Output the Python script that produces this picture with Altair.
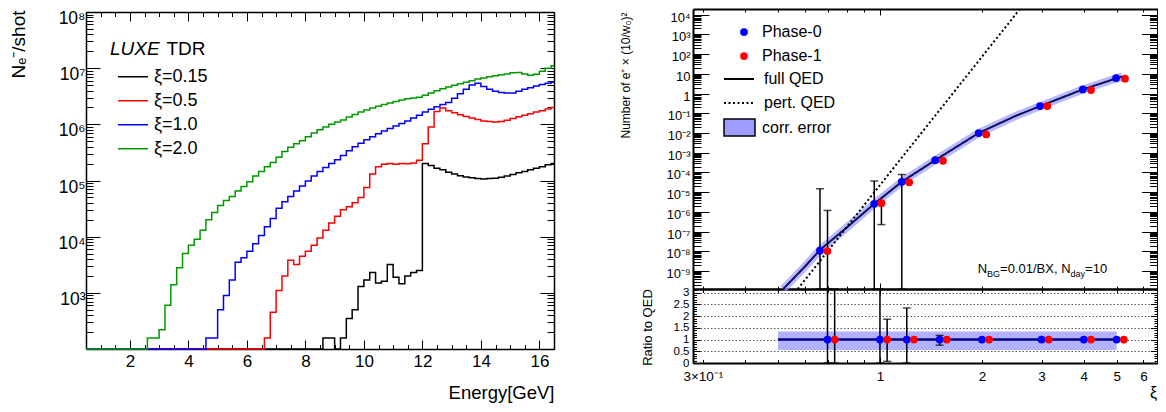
import altair as alt
import pandas as pd

W, H = 1150, 396
FONT = "Liberation Sans"

# ------------------------------------------------------------------ left panel data
energy_edges = [round(0.4 + 0.2 * i, 1) for i in range(82)]   # 0.2 GeV bins (left edges + closing edge)
series_names = ["ξ=0.15", "ξ=0.5", "ξ=1.0", "ξ=2.0"]
series_colors = ["#000000", "#ff0000", "#0000ff", "#009a00"]

counts_xi015 = [0] * 41 + [
    157, 157, 0, 157, 350, 500, 1300, 1700, 2300, 1500,
    1600, 3200, 1900, 1450, 2000, 2300, 2500, 200000, 185000, 165000,
    155000, 140000, 130000, 122000, 116000, 112000, 108000, 106000, 108000, 110000,
    114000, 120000, 128000, 138000, 145000, 155000, 165000, 175000, 190000, 200000]
counts_xi05 = [0] * 31 + [
    157, 450, 1100, 2000, 3800, 3200, 4500, 5500, 7000, 9500,
    13000, 17500, 23000, 30000, 34000, 40000, 50000, 75000, 130000, 175000,
    195000, 200000, 195000, 200000, 198000, 205000, 230000, 450000, 900000, 1.7e6,
    1.95e6, 1.75e6, 1.6e6, 1.48e6, 1.38e6, 1.3e6, 1.22e6, 1.15e6, 1.12e6, 1.1e6,
    1.12e6, 1.18e6, 1.27e6, 1.37e6, 1.45e6, 1.55e6, 1.65e6, 1.75e6, 1.88e6, 2.0e6]
counts_xi10 = [0] * 21 + [
    157, 157, 500, 900, 1700, 3500, 4200, 5500, 7500, 10500,
    15000, 21000, 32000, 42000, 52000, 65000, 80000, 98000, 120000, 145000,
    170000, 200000, 235000, 280000, 340000, 400000, 460000, 530000, 600000, 680000,
    760000, 840000, 930000, 1.03e6, 1.15e6, 1.3e6, 1.45e6, 1.65e6, 1.85e6, 2.05e6,
    2.25e6, 2.45e6, 2.9e6, 3.5e6, 4.2e6, 5.0e6, 5.4e6, 4.7e6, 4.2e6, 3.9e6,
    3.7e6, 3.6e6, 3.6e6, 3.9e6, 4.2e6, 4.5e6, 4.8e6, 5.1e6, 5.4e6, 5.6e6]
counts_xi20 = [0] * 11 + [
    157, 157, 220, 600, 1400, 2800, 5000, 7000, 9000, 13000,
    20000, 27000, 36000, 44000, 52000, 65000, 78000, 95000, 120000, 145000,
    175000, 210000, 260000, 330000, 390000, 450000, 510000, 600000, 700000, 800000,
    900000, 1.0e6, 1.1e6, 1.2e6, 1.35e6, 1.5e6, 1.65e6, 1.8e6, 1.95e6, 2.1e6,
    2.25e6, 2.4e6, 2.55e6, 2.7e6, 2.85e6, 2.95e6, 3.05e6, 3.3e6, 3.6e6, 3.95e6,
    4.3e6, 4.6e6, 4.95e6, 5.3e6, 5.6e6, 6.0e6, 6.4e6, 6.7e6, 7.0e6, 7.3e6,
    7.6e6, 7.9e6, 8.3e6, 8.4e6, 7.9e6, 7.5e6, 7.8e6, 8.8e6, 1.0e7, 1.1e7]

left_x_labels = [2, 4, 6, 8, 10, 12, 14, 16]
left_x_minor = [0.5 * k for k in range(1, 34)]
left_y_labels = [1e3, 1e4, 1e5, 1e6, 1e7, 1e8]
left_y_major = [1e2] + left_y_labels
left_y_minor = [m * 10.0 ** d for d in range(2, 8) for m in range(2, 10)]

# ------------------------------------------------------------------ right panel data
xi_p0_top = [0.665, 0.962, 1.16, 1.456, 1.957, 2.97, 3.97, 4.98]
n_p0 = [1.1e-8, 2.6e-6, 3.4e-5, 4.2e-4, 1.0e-2, 0.23, 1.6, 6.1]
xi_p1_top = [0.70, 1.01, 1.22, 1.535, 2.06, 3.12, 4.2, 5.29]
n_p1 = [1.05e-8, 2.8e-6, 3.2e-5, 3.9e-4, 8.4e-3, 0.23, 1.5, 5.6]
qed_xi = [0.518, 0.6, 0.665, 0.8, 0.962, 1.16, 1.456, 1.957, 2.5, 2.97, 3.97, 5.2]
qed_n = [1.26e-10, 1.7e-9, 1.2e-8, 1.7e-7, 2.6e-6, 3.4e-5, 4.2e-4, 1.0e-2, 7.0e-2, 0.23, 1.6, 7.4]
pert_xi = [0.572, 1.0, 2.59]
pert_n = [1.26e-10, 2.3e-5, 1.9e4]
err_top_xi = [0.665, 0.70, 0.962, 1.01, 1.16]
err_top_lo = [0, 0, 0, 2.3e-7, 0]
err_top_hi = [1.5e-5, 1.2e-6, 3.7e-5, 2.8e-6, 7.9e-5]

xi_p0_ratio = [0.70, 1.0, 1.2, 1.5, 2.0, 3.0, 4.0, 5.0]
xi_p1_ratio = [0.735, 1.05, 1.26, 1.575, 2.1, 3.15, 4.2, 5.25]
ratio_p0 = [1.0] * 8
ratio_p1 = [1.0] * 8
err_ratio_xi = [0.70, 0.735, 1.0, 1.05, 1.2, 1.5]
err_ratio_lo = [0, 0, 0, 0.07, 0, 0.76]
err_ratio_hi = [5, 5, 5, 1.87, 2.35, 1.18]
band_xi = [0.5, 5.0]
band_ratio = [0.55, 1.35]

rx_labels = [0.3, 1, 2, 3, 4, 5, 6]
rx_minor = [0.3, 0.4, 0.5, 0.6, 0.7, 0.8, 0.9, 2, 3, 4, 5, 6]
ru_y_labels = [10.0 ** d for d in range(-9, 5)]
ru_y_minor = [m * 10.0 ** d for d in range(-10, 5) for m in range(2, 10)
              if 10 ** -9.9 <= m * 10.0 ** d <= 10 ** 4.28]
ratio_labels = [0, 0.5, 1, 1.5, 2, 2.5, 3]
ratio_minor = [round(0.1 * k, 1) for k in range(0, 32)]

# ------------------------------------------------------------------ scales (pixel ranges inside one view)
LX = alt.Scale(type="linear", domain=[0.5, 16.5], range=[78, 546], clamp=True, nice=False, zero=False)
LY = alt.Scale(type="log", domain=[1e2, 1e8], range=[341, 4], clamp=True, nice=False)
RX = alt.Scale(type="log", domain=[0.2805, 6.6], range=[685, 1149.5], clamp=True, nice=False)
RUY = alt.Scale(type="log", domain=[10 ** -9.9, 10 ** 4.28], range=[281, 1], clamp=True, nice=False)
RLY = alt.Scale(type="linear", domain=[0, 3.16], range=[355, 281], clamp=True, nice=False, zero=False)

SUPEXPR = ("datum.value == 1 ? '1' : datum.value == 10 ? '10' : '10' + (datum.value < 1 ? '⁻' : '') + "
           "['⁰','¹','²','³','⁴','⁵','⁶','⁷','⁸','⁹'][abs(round(log(datum.value) / LN10))]")


def guide(channel, scale, axis, values, xscale=None):
    df = pd.DataFrame({"v": values})
    if channel == "x":
        enc = {"x": alt.X("v:Q", scale=scale, axis=axis)}
    else:
        enc = {"y": alt.Y("v:Q", scale=scale, axis=axis)}
        if xscale is not None:
            df["u"] = 1.0
            enc["x"] = alt.X("u:Q", scale=xscale, axis=None)
    return alt.Chart(df).mark_point(opacity=0).encode(**enc)


def ticks_axis(orient, offset, values, size, domain=False, dwidth=1.5):
    kw = dict(orient=orient, offset=offset, values=values, ticks=True, tickSize=size,
              tickWidth=1, tickColor="black", labels=False, grid=False, title=None, domain=domain)
    if domain:
        kw.update(domainColor="black", domainWidth=dwidth)
    return alt.Axis(**kw)


# ------------------------------------------------------------------ left panel
left_layers = [
    guide("x", LX, alt.Axis(orient="bottom", offset=341 - H, values=left_x_labels, ticks=False, tickSize=0,
                            domain=True, domainColor="black", domainWidth=1.5, labelFontSize=17,
                            labelPadding=4.5, labelFlush=False, labelOverlap=False, grid=False,
                            title="Energy[GeV]", titleFontSize=18.5, titleX=546, titleY=43,
                            titleAlign="right", titleBaseline="middle"), left_x_labels),
    guide("y", LY, alt.Axis(orient="left", offset=-78, values=left_y_labels, ticks=False, tickSize=0,
                            domain=True, domainColor="black", domainWidth=1.5, labelExpr=SUPEXPR,
                            labelFontSize=17.5, labelPadding=1, labelOffset=6.5, labelOverlap=False,
                            grid=False, title="Nₑ⁻/shot", titleFontSize=19, titleX=-67.5, titleY=2,
                            titleAngle=270, titleAlign="right", titleBaseline="middle"), left_y_labels),
    guide("x", LX, ticks_axis("top", -341, left_x_labels, 9), left_x_labels),
    guide("x", LX, ticks_axis("top", -341, left_x_minor, 4.5), left_x_minor),
    guide("x", LX, ticks_axis("bottom", 4 - H, left_x_labels, 9, domain=True), left_x_labels),
    guide("x", LX, ticks_axis("bottom", 4 - H, left_x_minor, 4.5), left_x_minor),
    guide("y", LY, ticks_axis("right", 78 - W, left_y_major, 14), left_y_major),
    guide("y", LY, ticks_axis("right", 78 - W, left_y_minor, 7), left_y_minor),
    guide("y", LY, ticks_axis("left", -546, left_y_major, 14, domain=True), left_y_major),
    guide("y", LY, ticks_axis("left", -546, left_y_minor, 7), left_y_minor),
]

color_scale = alt.Scale(domain=series_names, range=series_colors)
xi_legend = alt.Legend(title=None, orient="none", legendX=109, legendY=57, symbolType="stroke",
                       symbolSize=900, symbolStrokeWidth=1.5, labelFont=FONT, labelFontSize=18,
                       labelOffset=5, clipHeight=23.7, rowPadding=0, padding=0, labelColor="black")
for i, (name, counts) in enumerate([(series_names[0], counts_xi015), (series_names[1], counts_xi05),
                                    (series_names[2], counts_xi10), (series_names[3], counts_xi20)]):
    df = pd.DataFrame({"E": energy_edges, "N": counts + [counts[-1]], "series": name})
    left_layers.append(
        alt.Chart(df).transform_calculate(Np="max(datum.N, 1)")
        .mark_line(interpolate="step-after", strokeWidth=1.5)
        .encode(x=alt.X("E:Q", scale=LX, axis=None),
                y=alt.Y("Np:Q", scale=LY, axis=None),
                color=alt.Color("series:N", scale=color_scale, legend=xi_legend if i == 0 else None))
    )

left = alt.layer(*left_layers).resolve_axis(x="independent", y="independent")

# ------------------------------------------------------------------ right upper panel
ru_layers = [
    guide("y", RUY, alt.Axis(orient="left", offset=-685, values=ru_y_labels, ticks=False, tickSize=0,
                             domain=True, domainColor="black", domainWidth=2, labelExpr=SUPEXPR,
                             labelFontSize=13, labelPadding=3, labelOffset=2.5, labelOverlap=False, grid=False,
                             title="Number of e⁺ × (10/w₀)²", titleFontSize=12, titleX=-68, titleY=4,
                             titleAngle=270, titleAlign="right", titleBaseline="middle"), ru_y_labels),
    guide("x", RX, ticks_axis("top", -281, [1], 6, domain=True, dwidth=2), [1]),
    guide("x", RX, ticks_axis("top", -281, rx_minor, 3), rx_minor),
    guide("x", RX, ticks_axis("bottom", 1 - H, [1], 6, domain=True, dwidth=2), [1]),
    guide("x", RX, ticks_axis("bottom", 1 - H, rx_minor, 3), rx_minor),
    guide("y", RUY, ticks_axis("right", 685 - W, ru_y_labels, 16), ru_y_labels),
    guide("y", RUY, ticks_axis("right", 685 - W, ru_y_minor, 8), ru_y_minor),
    guide("y", RUY, ticks_axis("left", -1149.5, ru_y_labels, 16, domain=True, dwidth=2), ru_y_labels),
    guide("y", RUY, ticks_axis("left", -1149.5, ru_y_minor, 8), ru_y_minor),
]

dash_scale = alt.Scale(domain=["full QED", "pert. QED"], range=[[1, 0], [2, 2.5]])
qed_legend = alt.Legend(title=None, orient="none", legendX=715, legendY=59, symbolType="stroke",
                        symbolSize=900, symbolStrokeColor="black", symbolStrokeWidth=2,
                        labelFont=FONT, labelFontSize=16, labelOffset=9, clipHeight=24,
                        rowPadding=0, padding=0, labelColor="black")
qed_df = pd.DataFrame({"xi": qed_xi, "N": qed_n, "kind": "full QED"})
pert_df = pd.DataFrame({"xi": pert_xi, "N": pert_n, "kind": "pert. QED"})

ru_layers.append(alt.Chart(qed_df).mark_line(color="#9a9aff", strokeWidth=8, opacity=0.7)
                 .encode(x=alt.X("xi:Q", scale=RX, axis=None), y=alt.Y("N:Q", scale=RUY, axis=None)))
ru_layers.append(alt.Chart(qed_df).mark_line(color="#10105a", strokeWidth=2)
                 .encode(x=alt.X("xi:Q", scale=RX, axis=None), y=alt.Y("N:Q", scale=RUY, axis=None),
                         strokeDash=alt.StrokeDash("kind:N", scale=dash_scale, legend=qed_legend)))
ru_layers.append(alt.Chart(pert_df).mark_line(color="black", strokeWidth=2)
                 .encode(x=alt.X("xi:Q", scale=RX, axis=None), y=alt.Y("N:Q", scale=RUY, axis=None),
                         strokeDash=alt.StrokeDash("kind:N", scale=dash_scale, legend=None)))

err_top = pd.DataFrame({"xi": err_top_xi, "lo": err_top_lo, "hi": err_top_hi})
ru_layers.append(alt.Chart(err_top).transform_calculate(lo2="max(datum.lo, 1e-12)")
                 .mark_rule(color="black", strokeWidth=1.5)
                 .encode(x=alt.X("xi:Q", scale=RX, axis=None), y=alt.Y("lo2:Q", scale=RUY, axis=None),
                         y2="hi:Q"))
caps_top = pd.DataFrame({"xi": err_top_xi * 2, "v": err_top_lo + err_top_hi})
ru_layers.append(alt.Chart(caps_top).transform_calculate(v2="max(datum.v, 1e-12)")
                 .mark_tick(orient="horizontal", size=8, thickness=1.5, color="black")
                 .encode(x=alt.X("xi:Q", scale=RX, axis=None), y=alt.Y("v2:Q", scale=RUY, axis=None)))

phase_scale = alt.Scale(domain=["Phase-0", "Phase-1"], range=["#0000ff", "#ff0000"])
phase_legend = alt.Legend(title=None, orient="none", legendX=728, legendY=12.3, symbolType="circle",
                          symbolSize=60, symbolStrokeWidth=0, labelFont=FONT, labelFontSize=16,
                          labelOffset=10, clipHeight=23.5, rowPadding=0, padding=0, labelColor="black")
pts_top = pd.DataFrame({"xi": xi_p0_top + xi_p1_top, "N": n_p0 + n_p1,
                        "phase": ["Phase-0"] * 8 + ["Phase-1"] * 8})
ru_layers.append(alt.Chart(pts_top).mark_circle(size=60, opacity=1)
                 .encode(x=alt.X("xi:Q", scale=RX, axis=None), y=alt.Y("N:Q", scale=RUY, axis=None),
                         fill=alt.Fill("phase:N", scale=phase_scale, legend=phase_legend)))

ru = alt.layer(*ru_layers).resolve_axis(x="independent", y="independent")

# ------------------------------------------------------------------ right lower (ratio) panel
rl_layers = [
    guide("y", RLY, alt.Axis(orient="left", offset=-685, values=ratio_labels, ticks=False, tickSize=0,
                             domain=True, domainColor="black", domainWidth=2, labelExpr="'' + datum.value",
                             labelFontSize=11.5, labelPadding=4, labelOverlap=False,
                             grid=True, gridDash=[1.5, 2], gridColor="#555555", gridWidth=1,
                             title="Ratio to QED", titleFontSize=13, titleX=-45.5, titleY=319,
                             titleAngle=270, titleAlign="center", titleBaseline="middle"),
          ratio_labels, xscale=RX),
    guide("x", RX, alt.Axis(orient="bottom", offset=355 - H, values=rx_labels, ticks=False, tickSize=0,
                            domain=True, domainColor="black", domainWidth=2,
                            labelExpr="datum.value == 0.3 ? '3×10⁻¹' : '' + datum.value",
                            labelFontSize=13.5, labelPadding=6, labelFlush=False, labelOverlap=False,
                            grid=False, title="ξ", titleFontSize=16, titleX=1145, titleY=29,
                            titleAlign="center", titleBaseline="middle"), rx_labels),
    guide("x", RX, ticks_axis("top", -355, [1], 6), [1]),
    guide("x", RX, ticks_axis("top", -355, rx_minor, 3.5), rx_minor),
    guide("x", RX, ticks_axis("bottom", 281 - H, [1], 6, domain=True, dwidth=2), [1]),
    guide("x", RX, ticks_axis("bottom", 281 - H, rx_minor, 3.5), rx_minor),
    guide("y", RLY, ticks_axis("right", 685 - W, ratio_labels, 7), ratio_labels),
    guide("y", RLY, ticks_axis("right", 685 - W, ratio_minor, 3.5), ratio_minor),
    guide("y", RLY, ticks_axis("left", -1149.5, ratio_labels, 7, domain=True, dwidth=2), ratio_labels),
    guide("y", RLY, ticks_axis("left", -1149.5, ratio_minor, 3.5), ratio_minor),
]

band_df = pd.DataFrame({"x1": [band_xi[0]], "x2": [band_xi[1]], "y1": [band_ratio[0]],
                        "y2": [band_ratio[1]], "label": ["corr. error"]})
corr_legend = alt.Legend(title=None, orient="none", legendX=715, legendY=103,
                         symbolType="M-1,-0.55L1,-0.55L1,0.55L-1,0.55Z", symbolSize=961,
                         symbolStrokeColor="black", symbolStrokeWidth=1.5, symbolOpacity=1,
                         labelFont=FONT, labelFontSize=16, labelOffset=6, padding=0, labelColor="black")
rl_layers.append(alt.Chart(band_df).mark_rect(opacity=0.8)
                 .encode(x=alt.X("x1:Q", scale=RX, axis=None), x2="x2:Q",
                         y=alt.Y("y1:Q", scale=RLY, axis=None), y2="y2:Q",
                         fill=alt.Fill("label:N", scale=alt.Scale(domain=["corr. error"], range=["#9d9dff"]),
                                       legend=corr_legend)))
line_df = pd.DataFrame({"xi": band_xi, "r": [1.0, 1.0]})
rl_layers.append(alt.Chart(line_df).mark_line(color="#000080", strokeWidth=2.5)
                 .encode(x=alt.X("xi:Q", scale=RX, axis=None), y=alt.Y("r:Q", scale=RLY, axis=None)))

err_ratio = pd.DataFrame({"xi": err_ratio_xi, "lo": err_ratio_lo, "hi": err_ratio_hi})
rl_layers.append(alt.Chart(err_ratio).mark_rule(color="black", strokeWidth=1.5)
                 .encode(x=alt.X("xi:Q", scale=RX, axis=None), y=alt.Y("lo:Q", scale=RLY, axis=None),
                         y2="hi:Q"))
caps_ratio = pd.DataFrame({"xi": err_ratio_xi * 2, "v": err_ratio_lo + err_ratio_hi})
rl_layers.append(alt.Chart(caps_ratio).mark_tick(orient="horizontal", size=8, thickness=1.5, color="black")
                 .encode(x=alt.X("xi:Q", scale=RX, axis=None), y=alt.Y("v:Q", scale=RLY, axis=None)))

pts_ratio = pd.DataFrame({"xi": xi_p0_ratio + xi_p1_ratio, "r": ratio_p0 + ratio_p1,
                          "phase": ["Phase-0"] * 8 + ["Phase-1"] * 8})
rl_layers.append(alt.Chart(pts_ratio).mark_circle(size=60, opacity=1)
                 .encode(x=alt.X("xi:Q", scale=RX, axis=None), y=alt.Y("r:Q", scale=RLY, axis=None),
                         color=alt.Color("phase:N", scale=phase_scale, legend=None)))

rl = alt.layer(*rl_layers).resolve_axis(x="independent", y="independent")

# ------------------------------------------------------------------ annotations
def note(text, x, y, size, style="normal"):
    return (alt.Chart(pd.DataFrame({"t": [text]}))
            .mark_text(align="left", baseline="alphabetic", font=FONT, fontSize=size,
                       fontStyle=style, color="black")
            .encode(text="t:N", x=alt.value(x), y=alt.value(y)))


notes = [
    note("LUXE", 102, 47, 19, "italic"),
    note("TDR", 158.5, 47, 19),
    note("N", 969.7, 264.7, 13),
    note("BG", 979.1, 268.5, 9),
    note("=0.01/BX, N", 992.1, 264.7, 13),
    note("day", 1062.6, 268.5, 9),
    note("=10", 1077.1, 264.7, 13),
]

chart = (
    alt.layer(left, ru, rl, *notes)
    .resolve_scale(x="independent", y="independent", color="independent",
                   fill="independent", strokeDash="independent")
    .properties(width=W, height=H, padding=0, autosize=alt.AutoSizeParams(type="none"),
                background="white")
    .configure_view(stroke=None)
    .configure_axis(labelFont=FONT, titleFont=FONT, labelColor="black", titleColor="black",
                    titleFontWeight="normal")
)

chart.save("out.html", embed_options={"renderer": "svg", "actions": False})
